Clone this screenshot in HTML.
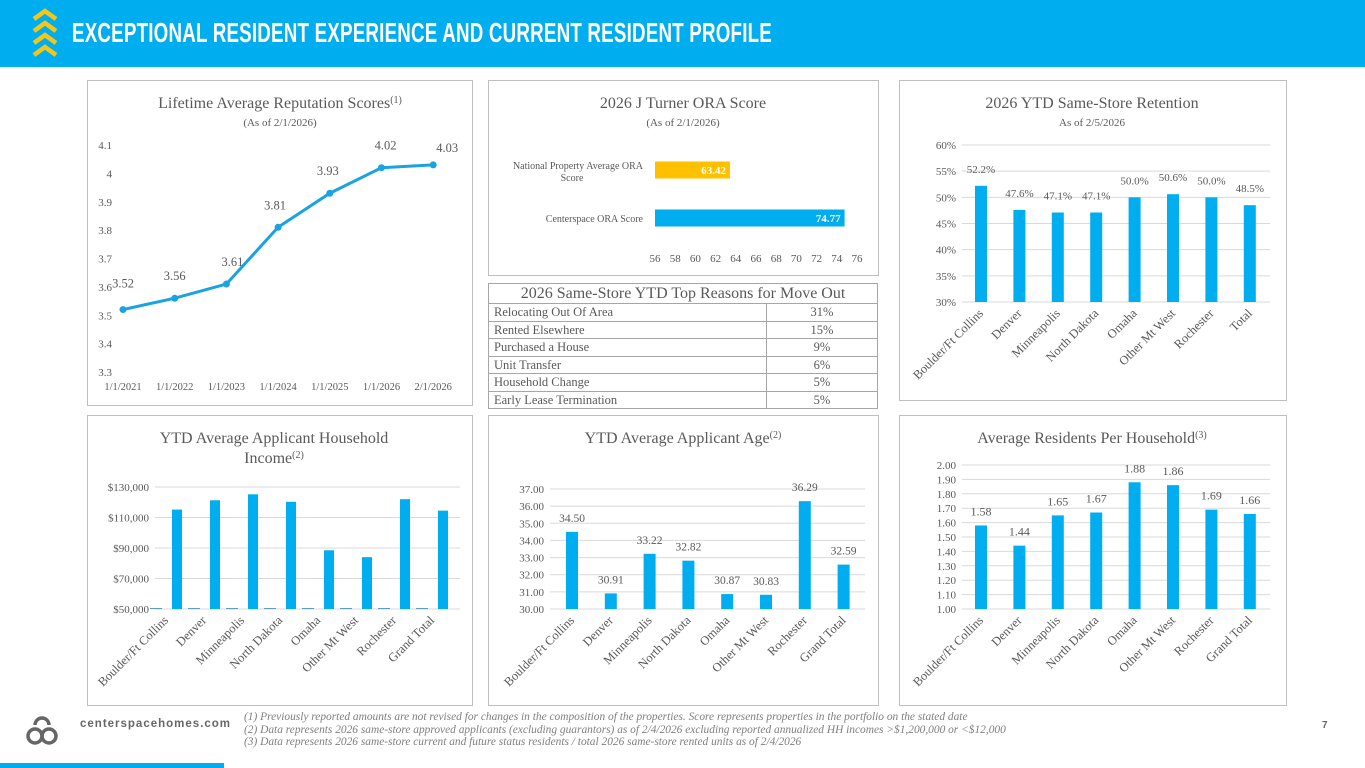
<!DOCTYPE html>
<html><head><meta charset="utf-8"><style>
*{margin:0;padding:0;box-sizing:border-box}
body{width:1365px;height:768px;position:relative;background:#fff;overflow:hidden;font-family:"Liberation Serif",serif;color:#595959}
#hdr{position:absolute;left:0;top:0;width:1365px;height:67px;background:#00aeef}
#hdr h1{position:absolute;left:72px;top:17px;font:bold 28px "Liberation Sans",sans-serif;color:#fff;transform:scaleX(0.67);transform-origin:left top;white-space:nowrap;letter-spacing:0.3px}
.panel{position:absolute;border:1px solid #bfbfbf;background:#fff}
#tbl{position:absolute;left:488px;top:283px;width:390px;border-collapse:collapse;font-size:12.5px;color:#595959}
#tbl td,#tbl th{border:1px solid #a6a6a6;height:17.5px;padding:0 5px;font-weight:normal;line-height:16px}
#tbl th{font-size:16px;height:20px}
#tbl td.v{text-align:center;width:111px}
#foot{position:absolute;left:244px;top:711px;font:italic 11.4px "Liberation Serif",serif;color:#7f7f7f;line-height:12.5px;white-space:nowrap}
#site{position:absolute;left:80px;top:718px;font:bold 11.5px "Liberation Sans",sans-serif;color:#666;letter-spacing:1px}
#bar{position:absolute;left:0;top:763px;width:224px;height:5px;background:#00aeef}
#pg{position:absolute;left:1322px;top:720px;font:bold 10px "Liberation Sans",sans-serif;color:#666}
svg#c{position:absolute;left:0;top:0}
</style></head><body>
<div id="hdr">
<svg width="30" height="55" style="position:absolute;left:30px;top:8px">
<g fill="none" stroke="#f5c518" stroke-width="4.5"><path d="M4 11 L15 3 L26 11"/><path d="M4 23 L15 15 L26 23"/><path d="M4 35 L15 27 L26 35"/><path d="M4 47 L15 39 L26 47"/></g></svg>
<h1>EXCEPTIONAL RESIDENT EXPERIENCE AND CURRENT RESIDENT PROFILE</h1>
</div>
<div class="panel" style="left:87px;top:80px;width:386px;height:326px"></div>
<div class="panel" style="left:488px;top:80px;width:391px;height:196px"></div>
<div class="panel" style="left:899px;top:80px;width:388px;height:321px"></div>
<div class="panel" style="left:87px;top:415px;width:386px;height:291px"></div>
<div class="panel" style="left:488px;top:415px;width:391px;height:291px"></div>
<div class="panel" style="left:899px;top:415px;width:388px;height:291px"></div>
<table id="tbl">
<tr><th colspan="2">2026 Same-Store YTD Top Reasons for Move Out</th></tr>
<tr><td>Relocating Out Of Area</td><td class="v">31%</td></tr>
<tr><td>Rented Elsewhere</td><td class="v">15%</td></tr>
<tr><td>Purchased a House</td><td class="v">9%</td></tr>
<tr><td>Unit Transfer</td><td class="v">6%</td></tr>
<tr><td>Household Change</td><td class="v">5%</td></tr>
<tr><td>Early Lease Termination</td><td class="v">5%</td></tr>
</table>
<svg id="c" width="1365" height="768" xmlns="http://www.w3.org/2000/svg"></svg>
<svg width="36" height="36" style="position:absolute;left:24px;top:711px"><g fill="none" stroke="#666" stroke-width="3.5"><path d="M11 14 A7 7 0 1 1 25 14"/><circle cx="11" cy="25" r="7"/><circle cx="25" cy="25" r="7"/></g></svg>
<div id="site">centerspacehomes.com</div>
<div id="foot">(1) Previously reported amounts are not revised for changes in the composition of the properties. Score represents properties in the portfolio on the stated date<br>(2) Data represents 2026 same-store approved applicants (excluding guarantors) as of 2/4/2026 excluding reported annualized HH incomes &gt;$1,200,000 or &lt;$12,000<br>(3) Data represents 2026 same-store current and future status residents / total 2026 same-store rented units as of 2/4/2026</div>
<div id="pg">7</div>
<div id="bar"></div>
<script>
const repDates=["1/1/2021","1/1/2022","1/1/2023","1/1/2024","1/1/2025","1/1/2026","2/1/2026"];
const repScores=[3.52,3.56,3.61,3.81,3.93,4.02,4.03];
const repTicks=[3.3,3.4,3.5,3.6,3.7,3.8,3.9,4,4.1];
const oraCats=["National Property Average ORA Score","Centerspace ORA Score"];
const oraVals=[63.42,74.77];
const oraTicks=[56,58,60,62,64,66,68,70,72,74,76];
const retCats=["Boulder/Ft Collins","Denver","Minneapolis","North Dakota","Omaha","Other Mt West","Rochester","Total"];
const retVals=[52.2,47.6,47.1,47.1,50.0,50.6,50.0,48.5];
const retTicks=[30,35,40,45,50,55,60];
const mktCats=["Boulder/Ft Collins","Denver","Minneapolis","North Dakota","Omaha","Other Mt West","Rochester","Grand Total"];
const incVals=[115200,121300,125200,120300,88500,84000,122000,114500];
const incTicks=[50000,70000,90000,110000,130000];
const ageVals=[34.50,30.91,33.22,32.82,30.87,30.83,36.29,32.59];
const ageTicks=[30,31,32,33,34,35,36,37];
const resVals=[1.58,1.44,1.65,1.67,1.88,1.86,1.69,1.66];
const resTicks=[1.0,1.1,1.2,1.3,1.4,1.5,1.6,1.7,1.8,1.9,2.0];

const S=document.getElementById('c');const NS="http://www.w3.org/2000/svg";
function mk(t,a,p){const e=document.createElementNS(NS,t);for(const k in a)e.setAttribute(k,a[k]);(p||S).appendChild(e);return e;}
function tx(x,y,s,o){const e=mk('text',Object.assign({x:x,y:y,'font-family':'Liberation Serif, serif','font-size':11,fill:'#595959'},o||{}));e.textContent=s;return e;}
function lin(d0,d1,r0,r1){return v=>r0+(v-d0)*(r1-r0)/(d1-d0);}
function title(cx,y,lines,sup,sub){lines.forEach((l,i)=>{const t=tx(cx,y+i*20,l,{'text-anchor':'middle','font-size':16});

if(sup&&i==lines.length-1){const s=mk('tspan',{'font-size':10,dy:-5},t);s.textContent=sup;}});
if(sub){const t=tx(cx,y+18,sub,{'text-anchor':'middle','font-size':11});}}

// Chart 1 line
title(280,108,["Lifetime Average Reputation Scores"],"(1)","(As of 2/1/2026)");
{const y=lin(3.3,4.1,372,145),x=i=>123+i*51.7;
repTicks.forEach(v=>{const t=tx(112,y(v)+4,String(v),{'text-anchor':'end'});});
repDates.forEach((d,i)=>{const t=tx(x(i),390,d,{'text-anchor':'middle','font-size':10.5});});
const p=mk('polyline',{points:repScores.map((v,i)=>x(i)+','+y(v)).join(' '),fill:'none',stroke:'#1aa3e0','stroke-width':3});

const dx=[0,0,6,-3,-2,4,14];
repScores.forEach((v,i)=>{const c=mk('circle',{cx:x(i),cy:y(v),r:3.5,fill:'#1aa3e0'});
const t=tx(x(i)+dx[i],y(v)-(i==6?13:i==0?22:18),v.toFixed(2),{'text-anchor':'middle','font-size':12.5});});}

// Chart 2 horizontal bars
title(683,108,["2026 J Turner ORA Score"],null,"(As of 2/1/2026)");
{const x=lin(56,76,655,857);const cy=[170,218];const cols=['#ffc000','#00aeef'];
oraTicks.forEach(v=>{const t=tx(x(v),262,String(v),{'text-anchor':'middle'});});
oraCats.forEach((c,i)=>{
if(i==0){tx(643,169,"National Property Average ORA",{'text-anchor':'end','font-size':10});tx(572,181,"Score",{'text-anchor':'middle','font-size':10});}
else tx(643,222,c,{'text-anchor':'end','font-size':10});
const r=mk('rect',{x:x(56),y:cy[i]-8.5,width:x(oraVals[i])-x(56),height:17,fill:cols[i]});
const t=tx(x(oraVals[i])-4,cy[i]+4,oraVals[i].toFixed(2),{'text-anchor':'end','font-weight':'bold',fill:'#fff',"font-size":11});});}

function cols(cfg){const y=lin(cfg.d0,cfg.d1,cfg.y0,cfg.y1);
cfg.ticks.forEach(v=>{mk('line',{x1:cfg.xl,x2:cfg.xr,y1:y(v),y2:y(v),stroke:'#d9d9d9','stroke-width':1});
const t=tx(cfg.xl-6,y(v)+4,cfg.fmt(v),{'text-anchor':'end'});});
cfg.vals.forEach((v,i)=>{const cx=cfg.cx0+i*cfg.step;
if(cfg.ghost)mk('rect',{x:cx-27,y:y(cfg.d0)-1,width:12,height:1,fill:'#5b9bd5'});
const r=mk('rect',{x:cx-cfg.bw/2,y:y(v),width:cfg.bw,height:y(cfg.d0)-y(v),fill:'#00aeef'});
if(cfg.lab){const t=tx(cx,y(v)-cfg.lo,cfg.lab(v),{'text-anchor':'middle','font-size':cfg.lfs||11.5});}
const lx=cfg.ghost?cx-8:cx+3;const t=tx(lx,y(cfg.d0)+12,cfg.cats[i],{'text-anchor':'end','font-size':12.5,transform:'rotate(-45 '+lx+' '+(y(cfg.d0)+12)+')'});
});}

title(1092,108,["2026 YTD Same-Store Retention"],null,"As of 2/5/2026");
cols({d0:30,d1:60,y0:302,y1:145,xl:962,xr:1270,ticks:retTicks,fmt:v=>v+'%',vals:retVals,cats:retCats,cx0:981,step:38.4,bw:12,lab:v=>v.toFixed(1)+'%',lo:13,lfs:11});

title(274,443,["YTD Average Applicant Household","Income"],"(2)");
cols({d0:50000,d1:130000,y0:609,y1:487,xl:155,xr:460,ticks:incTicks,fmt:v=>'$'+v.toLocaleString('en-US'),vals:incVals,cats:mktCats,cx0:177,step:38,bw:10,ghost:true});

title(683,443,["YTD Average Applicant Age"],"(2)");
cols({d0:30,d1:37,y0:609,y1:489,xl:550,xr:865,ticks:ageTicks,fmt:v=>v.toFixed(2),vals:ageVals,cats:mktCats,cx0:572,step:38.8,bw:12,lab:v=>v.toFixed(2),lo:10});

title(1092,443,["Average Residents Per Household"],"(3)");
cols({d0:1,d1:2,y0:609,y1:465,xl:962,xr:1270,ticks:resTicks,fmt:v=>v.toFixed(2),vals:resVals,cats:mktCats,cx0:981,step:38.4,bw:12,lab:v=>v.toFixed(2),lo:10,lfs:12});
</script>
</body></html>
